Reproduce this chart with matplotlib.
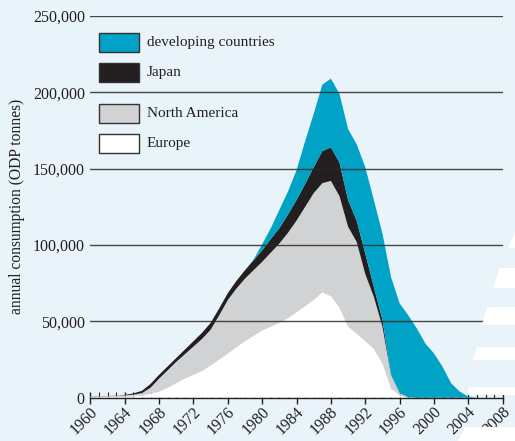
import matplotlib
matplotlib.use("Agg")
import matplotlib.pyplot as plt
from matplotlib.patches import Rectangle, Polygon
from matplotlib.ticker import FuncFormatter, MultipleLocator
from matplotlib.transforms import ScaledTranslation

plt.rcParams["font.family"] = ["Liberation Serif", "DejaVu Serif"]

years = list(range(1960, 2009))

# cumulative tops (ODP tonnes)
europe_top = [300, 350, 400, 500, 600, 900, 1500, 2500, 4000, 6500,
              9500, 12500, 15000, 17500, 21000, 25000, 29000, 33000, 37000, 40500,
              44000, 46500, 49000, 52000, 56000, 60000, 64000, 69000, 66500, 59000,
              46500, 42000, 37000, 32000, 22500, 6000, 1500, 0, 0, 0,
              0, 0, 0, 0, 0, 0, 0, 0, 0]
namerica_top = [800, 900, 1000, 1200, 1500, 2000, 3000, 6500, 12500, 18000,
                23500, 28500, 33500, 38500, 44500, 54000, 64000, 71500, 78000, 83500,
                89000, 95000, 101000, 108000, 116000, 125000, 134000, 140500, 142000, 132000,
                112000, 102000, 81000, 66000, 46500, 15000, 3000, 300, 0, 0,
                0, 0, 0, 0, 0, 0, 0, 0, 0]
japan_top = [900, 1000, 1100, 1300, 1800, 2800, 4500, 9000, 15000, 20500,
             26000, 31500, 37000, 42500, 49000, 58500, 68500, 76500, 83500, 90000,
             96500, 104000, 111000, 120000, 129500, 140000, 151000, 161500, 164000, 154000,
             129500, 116000, 94500, 72500, 51000, 15500, 3200, 300, 0, 0,
             0, 0, 0, 0, 0, 0, 0, 0, 0]
total_top = [900, 1000, 1100, 1300, 1800, 2800, 4500, 9000, 15000, 20500,
             26000, 31500, 37000, 42500, 49000, 58500, 68500, 76500, 83500, 90500,
             100500, 111000, 123000, 135000, 149000, 168000, 186000, 205000, 209000, 199000,
             176000, 166000, 151000, 129500, 107500, 79000, 61800, 54000, 45400, 35500,
             29000, 20300, 9400, 4000, 700, 0, 0, 0, 0]

europe = europe_top
namerica = [b - a for a, b in zip(europe_top, namerica_top)]
japan = [b - a for a, b in zip(namerica_top, japan_top)]
developing = [b - a for a, b in zip(japan_top, total_top)]

labels = ["developing countries", "Japan", "North America", "Europe"]
colors = ["#00a3c6", "#231f20", "#d1d2d4", "#ffffff"]
bg = "#e8f4f9"

fig = plt.figure(figsize=(5.15, 4.41), dpi=100, facecolor=bg)

# decorative white stripes at the right edge (figure pixels)
stripes = [(233, 248, 515, 508), (268, 288, 500, 493), (307, 325, 487, 482),
           (347, 360, 477, 473), (387, 395, 469, 467), (427, 441, 465, 458)]
W, H = 515, 441
for top, bot, xt, xb in stripes:
    pts = [(xt / W, 1 - top / H), (1.0, 1 - top / H), (1.0, 1 - bot / H), (xb / W, 1 - bot / H)]
    fig.patches.append(Polygon(pts, closed=True, transform=fig.transFigure,
                               facecolor="white", edgecolor="none", zorder=0))

ax = fig.add_axes([90.4 / W, 1 - 397.7 / H, 412.3 / W, 381.7 / H])
ax.set_facecolor("none")

ax.stackplot(years, europe, namerica, japan, developing,
             colors=colors[::-1], linewidth=0, zorder=2)

ax.set_xlim(1960, 2008)
ax.set_ylim(0, 250000)

for y in range(50000, 250001, 50000):
    ax.axhline(y, color="#2a2a2a", lw=1.0, alpha=0.85, zorder=3)

for s in ["left", "right", "top"]:
    ax.spines[s].set_visible(False)
ax.spines["bottom"].set_color("#231f20")
ax.spines["bottom"].set_linewidth(1.0)
ax.spines["bottom"].set_zorder(4)

ax.xaxis.set_major_locator(MultipleLocator(4))
ax.xaxis.set_minor_locator(MultipleLocator(1))
ax.tick_params(axis="x", which="major", direction="inout", length=8, width=1,
               color="#231f20", labelsize=11.5, pad=4.5)
ax.tick_params(axis="x", which="minor", direction="in", length=4, width=0.8,
               color="#231f20")
shift = ScaledTranslation(5 / 100, 0, fig.dpi_scale_trans)
for lab in ax.get_xticklabels():
    lab.set_rotation(45)
    lab.set_ha("right")
    lab.set_va("center")
    lab.set_rotation_mode("anchor")
    lab.set_transform(lab.get_transform() + shift)

ax.yaxis.set_major_locator(MultipleLocator(50000))
ax.yaxis.set_major_formatter(FuncFormatter(lambda v, p: f"{int(v):,}"))
ax.tick_params(axis="y", length=0, labelsize=11.5, pad=4, labelcolor="#231f20")
ax.tick_params(axis="x", labelcolor="#231f20")

ax.set_ylabel("annual consumption (ODP tonnes)", fontsize=11.2, color="#231f20", labelpad=6)

# legend drawn as boxes in axes coordinates
box_y = [0.9057, 0.8271, 0.7205, 0.640]
for lab, col, y0 in zip(labels, colors, box_y):
    ax.add_patch(Rectangle((0.0197, y0), 0.098, 0.0498, transform=ax.transAxes,
                           facecolor=col, edgecolor="#333333", lw=1.0, zorder=5))
    ax.text(0.1365, y0 + 0.0249, lab, transform=ax.transAxes, fontsize=11,
            va="center", ha="left", color="#231f20", zorder=5)

fig.savefig("out.png", dpi=100, facecolor=bg)
